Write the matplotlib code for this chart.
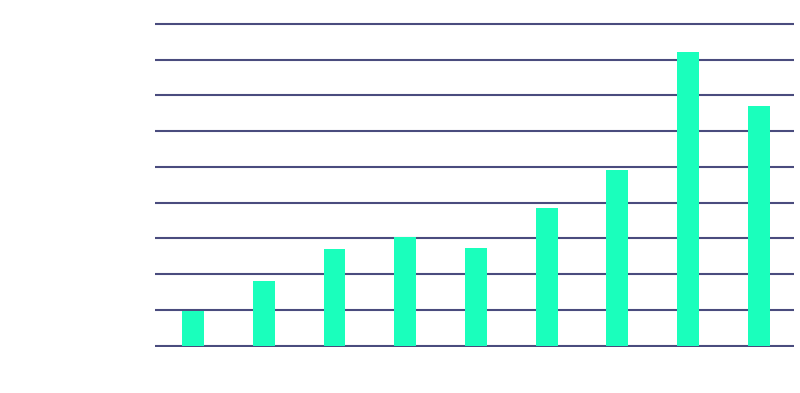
import matplotlib
matplotlib.use("Agg")
import matplotlib.pyplot as plt

categories = ["1", "2", "3", "4", "5", "6", "7", "8", "9"]
values = [0.97, 1.80, 2.69, 3.05, 2.72, 3.86, 4.92, 8.21, 6.71]
grid_levels = list(range(0, 10))

fig = plt.figure(figsize=(8.0, 3.93), dpi=100)
ax = fig.add_axes([155 / 800, 0.1163, (794 - 155) / 800, 0.9435 - 0.1163])

x = list(range(len(categories)))
ax.bar(x, values, width=0.31, color="#1affbc", zorder=3)
for g in grid_levels:
    ax.axhline(g, color="#4a4c7e", linewidth=1.5, zorder=2)

ax.set_xlim(-0.54, 8.5)
ax.set_ylim(-0.05, 9.05)
ax.set_xticks([])
ax.set_yticks([])
for s in ax.spines.values():
    s.set_visible(False)

fig.savefig("out.png", dpi=100)
